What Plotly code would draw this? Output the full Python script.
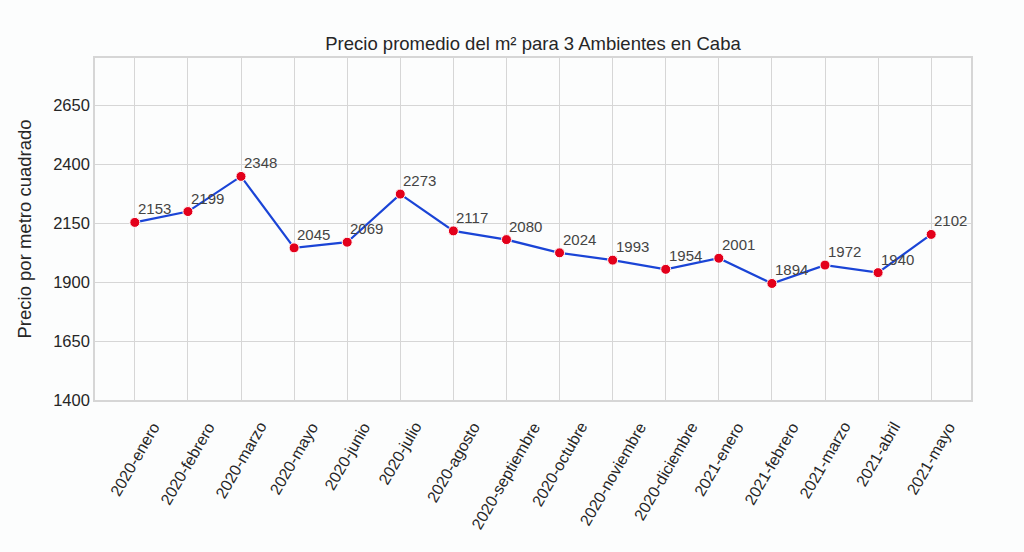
import plotly.graph_objects as go

meses = ["2020-enero", "2020-febrero", "2020-marzo", "2020-mayo", "2020-junio", "2020-julio",
         "2020-agosto", "2020-septiembre", "2020-octubre", "2020-noviembre", "2020-diciembre",
         "2021-enero", "2021-febrero", "2021-marzo", "2021-abril", "2021-mayo"]
precios = [2153, 2199, 2348, 2045, 2069, 2273, 2117, 2080, 2024, 1993, 1954, 2001, 1894, 1972, 1940, 2102]
y_ticks = [1400, 1650, 1900, 2150, 2400, 2650]

FONT = "Liberation Sans, Arial"
xs = list(range(len(meses)))

fig = go.Figure()
fig.add_trace(go.Scatter(
    x=xs, y=precios,
    mode="lines+markers",
    line=dict(color="#1a44d6", width=2.2),
    marker=dict(color="#e3001b", size=10, line=dict(color="white", width=1)),
    cliponaxis=False,
    showlegend=False,
))

annotations = []
# data value labels
for xi, v in zip(xs, precios):
    annotations.append(dict(
        x=xi, y=v, xref="x", yref="y", text=str(v), showarrow=False,
        xanchor="left", yanchor="bottom", xshift=1, yshift=3,
        font=dict(family=FONT, size=15, color="#444444"),
    ))
# rotated category labels (centered on the tick, like the reference)
for xi, m in zip(xs, meses):
    annotations.append(dict(
        x=xi, y=0, xref="x", yref="paper", text=m, showarrow=False,
        textangle=-60, xanchor="center", yanchor="top", yshift=-17,
        font=dict(family=FONT, size=16, color="#262626"),
    ))

fig.update_layout(
    width=1024, height=552,
    margin=dict(l=95, r=53, t=58, b=152),
    paper_bgcolor="#fcfdfd",
    plot_bgcolor="#fcfdfd",
    font=dict(family=FONT, color="#333333"),
    title=dict(text="Precio promedio del m² para 3 Ambientes en Caba",
               xref="paper", x=0.5, xanchor="center", y=1 - 44 / 552, yanchor="middle",
               font=dict(size=18.5, color="#262626")),
    annotations=annotations,
)
fig.update_xaxes(
    range=[-0.75, len(meses) - 0.25],
    tickmode="array", tickvals=xs, ticktext=meses, showticklabels=False,
    showgrid=True, gridcolor="#d6d6d6", gridwidth=1.3,
    showline=True, linecolor="#d6d6d6", linewidth=1.6, mirror=True,
    zeroline=False, ticks="",
)
fig.update_yaxes(
    range=[1400, 2850],
    tickmode="array", tickvals=y_ticks,
    tickfont=dict(size=16.5, color="#262626"),
    title=dict(text="Precio por metro cuadrado", font=dict(size=18.5, color="#262626"), standoff=17),
    showgrid=True, gridcolor="#d6d6d6", gridwidth=1.3,
    showline=True, linecolor="#d6d6d6", linewidth=1.6, mirror=True,
    zeroline=False, ticks="",
)

fig.write_html("out.html")
